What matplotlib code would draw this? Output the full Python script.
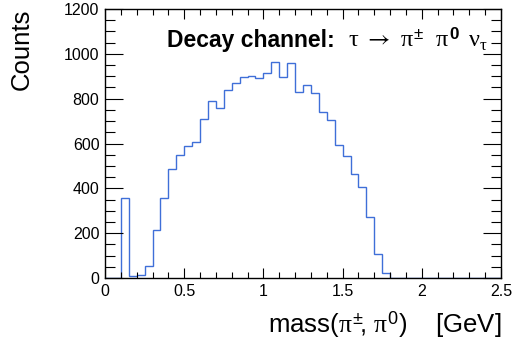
import matplotlib
matplotlib.use("Agg")
import matplotlib.pyplot as plt
from matplotlib.ticker import MultipleLocator
import numpy as np

# Liberation Sans for text, upright serif Greek in math like ROOT's symbol font
plt.rcParams['font.family'] = ['Liberation Sans', 'DejaVu Sans']
plt.rcParams['mathtext.fontset'] = 'custom'
plt.rcParams['mathtext.rm'] = 'Liberation Sans'
plt.rcParams['mathtext.it'] = 'Liberation Serif'
plt.rcParams['mathtext.bf'] = 'Liberation Sans:bold'
plt.rcParams['mathtext.sf'] = 'STIXGeneral'

# invariant mass of the pi+- pi0 pair, 50 bins of 0.05 GeV from 0 to 2.5
bin_edges = np.linspace(0.0, 2.5, 51)
counts = [0, 0, 355, 8, 12, 55, 216, 357, 487, 547,
          587, 607, 709, 789, 759, 838, 868, 896, 902, 890,
          916, 965, 898, 958, 831, 861, 824, 739, 707, 593,
          544, 466, 404, 272, 109, 22, 0, 0, 0, 0,
          0, 0, 0, 0, 0, 0, 0, 0, 0, 0]

x_ticks = [0, 0.5, 1, 1.5, 2, 2.5]
x_tick_labels = ['0', '0.5', '1', '1.5', '2', '2.5']
y_ticks = [0, 200, 400, 600, 800, 1000, 1200]

fig = plt.figure(figsize=(5.22, 3.44), dpi=100)
ax = fig.add_axes([105 / 522, 66 / 344, 396 / 522, 269 / 344])

ax.stairs(counts, bin_edges, baseline=0, color='#3f6fd8', linewidth=1.0)

ax.set_xlim(0, 2.5)
ax.set_ylim(0, 1200)
ax.set_xticks(x_ticks)
ax.set_xticklabels(x_tick_labels)
ax.set_yticks(y_ticks)
ax.xaxis.set_minor_locator(MultipleLocator(0.1))
ax.yaxis.set_minor_locator(MultipleLocator(50))

ax.tick_params(which='both', direction='in', top=True, right=True,
               labelsize=11.5, width=0.8, colors='black')
ax.tick_params(axis='x', which='major', length=7, pad=4)
ax.tick_params(axis='x', which='minor', length=4)
ax.tick_params(axis='y', which='major', length=13, pad=4)
ax.tick_params(axis='y', which='minor', length=7)
for spine in ax.spines.values():
    spine.set_linewidth(1.0)

ax.set_ylabel('Counts', loc='top', fontsize=18.5)
ax.yaxis.set_label_coords(-0.18, 1.0)
ax.set_xlabel(r'mass($\pi^{\pm}\!$, $\pi^{0}$)    [GeV]', loc='right', fontsize=18.5)
ax.xaxis.label.set_va('baseline')
ax.xaxis.set_label_coords(1.0, -0.2045)

ax.text(0.157, 0.858, 'Decay channel:', transform=ax.transAxes,
        fontsize=16.5, fontweight='bold', ha='left', va='baseline')
ax.text(0.614, 0.858,
        r'$\tau\ \mathsf{\rightarrow}\ \pi^{\pm}\ \ \pi^{\mathbf{0}}\ \,\nu_{\tau}$',
        transform=ax.transAxes, fontsize=17.5, ha='left', va='baseline')

fig.savefig('out.png', dpi=100)
